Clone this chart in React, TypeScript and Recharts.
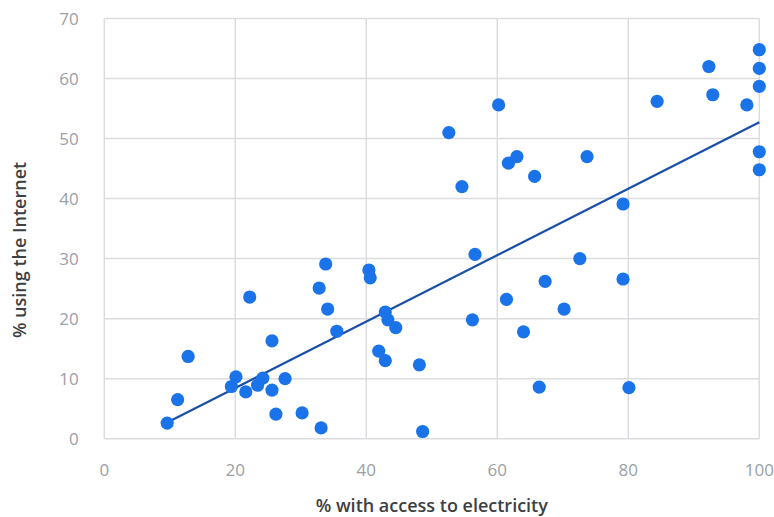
import { ScatterChart, Scatter, XAxis, YAxis, CartesianGrid, ReferenceLine } from "recharts";

// % with access to electricity
const electricity = [
  9.6, 11.2, 12.8, 19.4, 20.1, 21.6, 22.2, 23.4, 24.2, 25.6, 26.2, 25.6, 27.6, 30.2,
  33.1, 32.8, 33.8, 34.1, 35.5, 40.4, 40.6, 41.9, 42.9, 42.9, 43.3, 44.5, 48.1, 48.6,
  56.6, 72.6, 67.3, 79.2, 61.4, 70.2, 56.2, 64.0, 66.4, 80.1, 52.6, 60.2, 54.6, 61.7,
  63.0, 65.7, 73.7, 79.2, 84.4, 92.3, 92.9, 98.1, 100, 100, 100, 100, 100,
];

// % using the Internet
const internet = [
  2.6, 6.5, 13.7, 8.7, 10.3, 7.8, 23.6, 8.9, 10.1, 8.1, 4.1, 16.3, 10.0, 4.3,
  1.8, 25.1, 29.1, 21.6, 17.9, 28.1, 26.8, 14.6, 13.0, 21.1, 19.8, 18.5, 12.3, 1.2,
  30.7, 30.0, 26.2, 26.6, 23.2, 21.6, 19.8, 17.8, 8.6, 8.5, 51.0, 55.6, 42.0, 45.9,
  47.0, 43.7, 47.0, 39.1, 56.2, 62.0, 57.3, 55.6, 64.8, 61.7, 58.7, 47.8, 44.8,
];

// trend line end points
const trendX = [9.6, 100];
const trendY = [2.7, 52.7];

const xTicks = [0, 20, 40, 60, 80, 100];
const yTicks = [0, 10, 20, 30, 40, 50, 60, 70];

const points = electricity.map((x, i) => ({ x, y: internet[i] }));

const FONT = "'Open Sans', Roboto, sans-serif";
const tickStyle = { fill: "#9aa0a6", fontSize: 17, fontFamily: FONT };
const labelStyle = { fill: "#3c4043", fontSize: 18, fontWeight: 600, fontFamily: FONT };

const Dot = (props: any) => <circle cx={props.cx} cy={props.cy} r={6.6} fill="#1a73e8" />;

export default function App() {
  return (
    <div style={{ position: "absolute", left: 0, top: 0 }}>
      <ScatterChart width={774} height={517} margin={{ top: 18.5, right: 14.7, bottom: 0, left: 0 }}>
        <CartesianGrid stroke="#dadce0" strokeWidth={1.5} />
        <XAxis
          type="number"
          dataKey="x"
          domain={[0, 100]}
          ticks={xTicks}
          height={78.3}
          tickSize={0}
          tickMargin={25}
          axisLine={false}
          tick={tickStyle}
          label={{
            value: "% with access to electricity",
            position: "insideBottom",
            offset: 5,
            style: labelStyle,
          }}
        />
        <YAxis
          type="number"
          dataKey="y"
          domain={[0, 70]}
          ticks={yTicks}
          width={104.3}
          tickSize={0}
          tickMargin={25.6}
          axisLine={false}
          tick={tickStyle}
          label={{
            value: "% using the Internet",
            position: "center",
            angle: -90,
            dx: -32.7,
            dy: 21.4,
            style: labelStyle,
          }}
        />
        <Scatter data={points} fill="#1a73e8" shape={Dot} isAnimationActive={false} />
        <ReferenceLine
          segment={[
            { x: trendX[0], y: trendY[0] },
            { x: trendX[1], y: trendY[1] },
          ]}
          stroke="#1a4fa8"
          strokeWidth={2.2}
        />
      </ScatterChart>
    </div>
  );
}
